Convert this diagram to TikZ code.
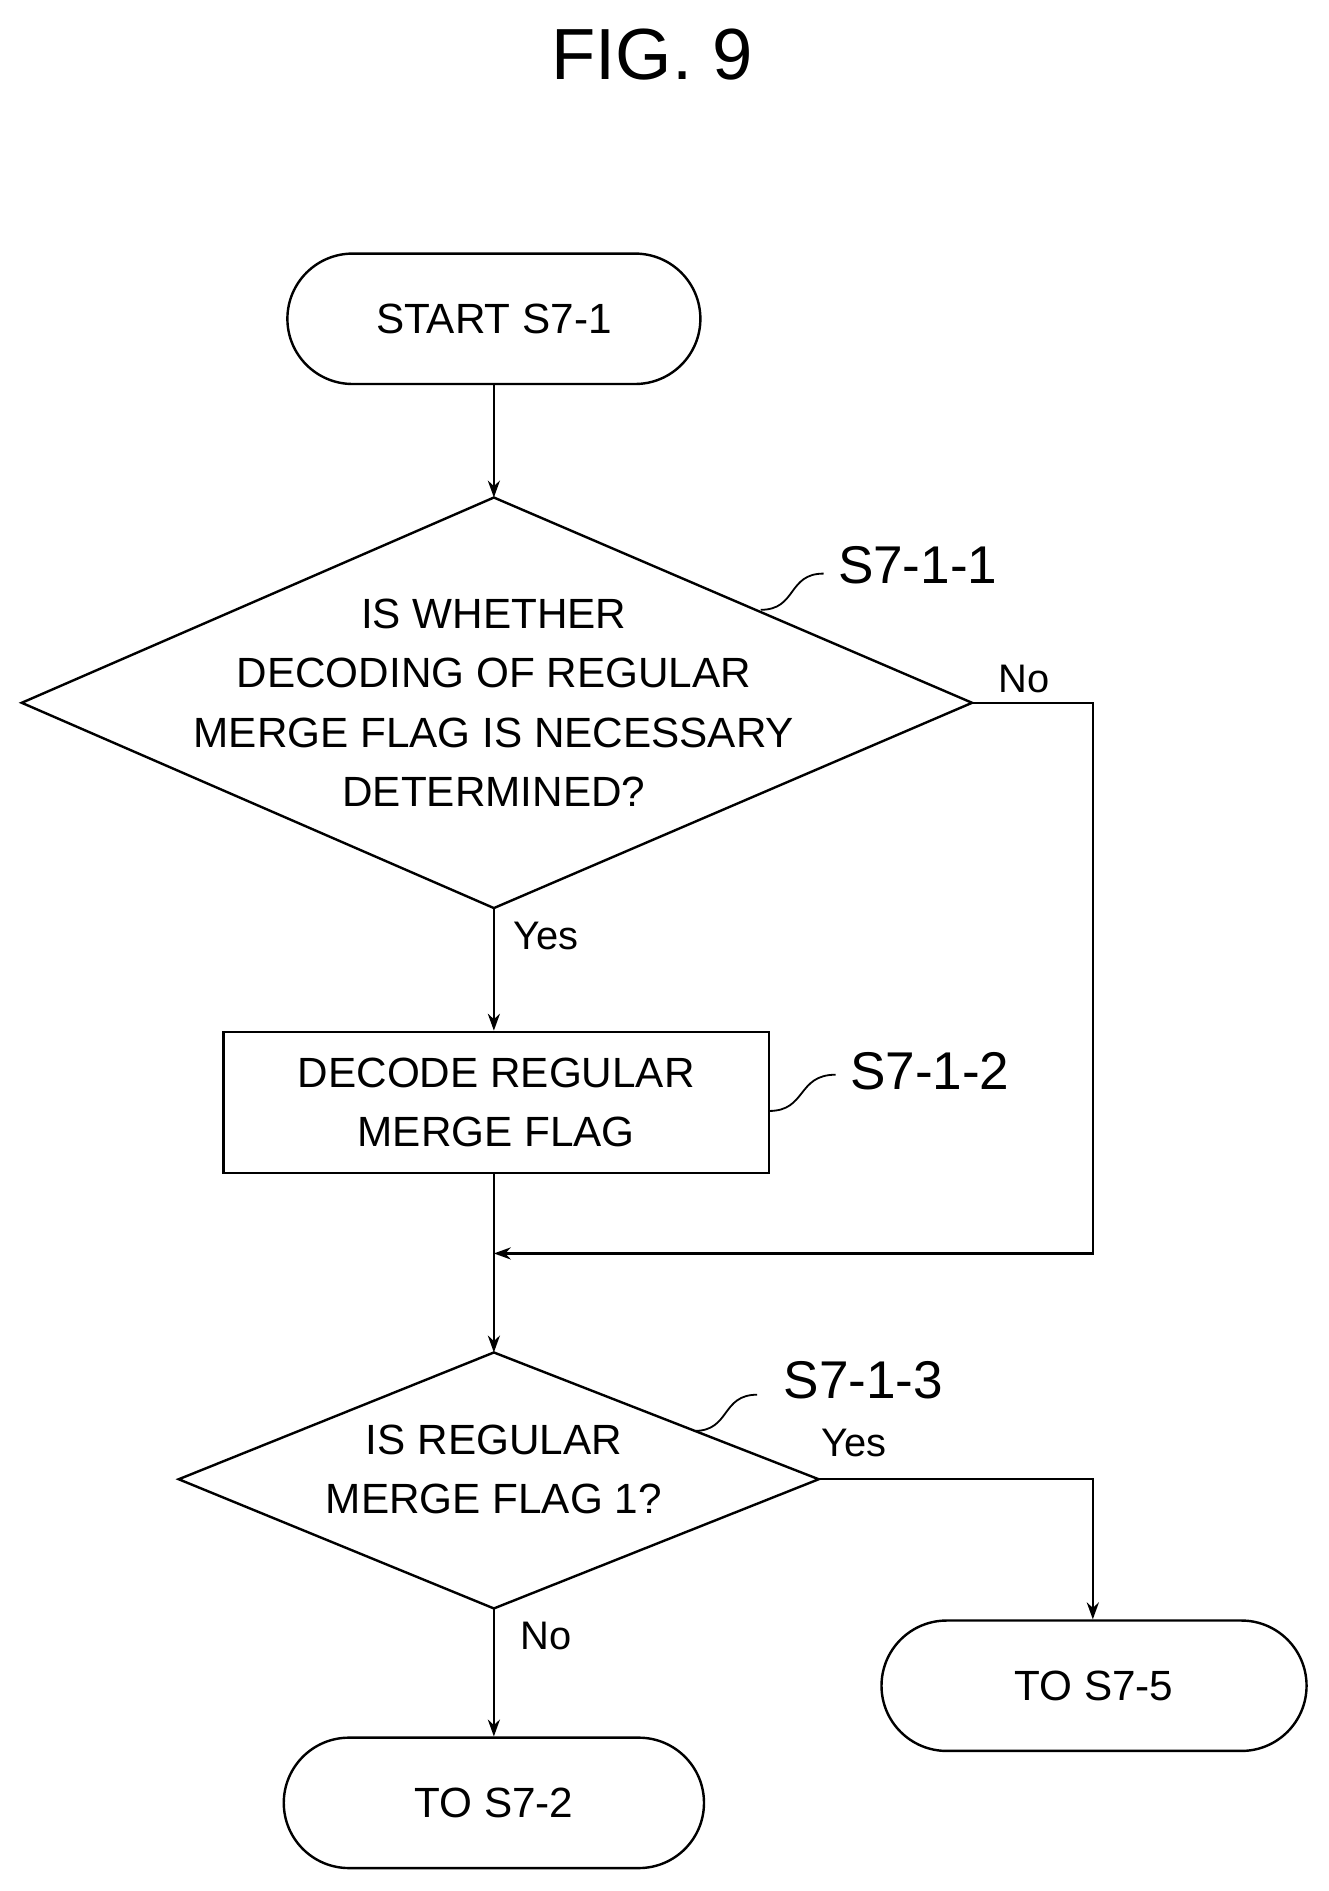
\documentclass[tikz,border=0pt]{standalone}
\usepackage{fontspec}
\setmainfont{Liberation Sans}
\usetikzlibrary{shapes.geometric,arrows.meta}
\begin{document}
\begin{tikzpicture}[x=1pt,y=-1pt,
  line width=2pt,
  txt/.style={font=\fontsize{35}{49}\selectfont,align=center,inner sep=0},
  lbl/.style={font=\fontsize{44}{50}\selectfont,inner sep=0},
  yn/.style={font=\fontsize{33}{40}\selectfont,inner sep=0},
  term/.style={draw,rounded corners=54pt,minimum width=#1,minimum height=108pt,txt},
  arr/.style={-{Stealth[length=14pt,width=10pt]}}]
\useasboundingbox (0,0) rectangle (1100,1566);
\node[font=\fontsize{60}{60}\selectfont] (title) at (540,45) {FIG. 9};
\node[term=342pt] (start) at (409,264) {START S7-1};
\coordinate (d1t) at (409,412); \coordinate (d1l) at (18,582);
\coordinate (d1r) at (805,582); \coordinate (d1b) at (409,752);
\draw (d1t)--(d1r)--(d1b)--(d1l)--cycle;
\node[txt] (q1) at (409,582) {IS WHETHER\\DECODING OF REGULAR\\MERGE FLAG IS NECESSARY\\DETERMINED?};
\draw[arr] (start) -- (d1t);
\node[lbl] (l1) at (760,468) {S7-1-1};
\coordinate (s1a) at (630,505); \coordinate (s1b) at (682,475);
\draw[line width=1.5pt] (s1a) .. controls (660,505) and (652,475) .. (s1b);
\node[draw,minimum width=452pt,minimum height=117pt,txt] (box) at (411,913) {DECODE REGULAR\\MERGE FLAG};
\draw[arr] (d1b) -- (box.north -| d1b);
\node[yn] at (452,775) {Yes};
\node[yn] at (848,562) {No};
\node[lbl] (l2) at (770,887) {S7-1-2};
\coordinate (s2a) at (637,920); \coordinate (s2b) at (692,890);
\draw[line width=1.5pt] (s2a) .. controls (668,920) and (660,890) .. (s2b);
\coordinate (j) at (409,1038);
\draw[arr] (d1r) -- (905,582) -- (905,1038) -- (j);
\coordinate (d2t) at (409,1120); \coordinate (d2l) at (148,1225);
\coordinate (d2r) at (678,1225); \coordinate (d2b) at (409,1332);
\draw (d2t)--(d2r)--(d2b)--(d2l)--cycle;
\node[txt] (q2) at (409,1217) {IS REGULAR\\MERGE FLAG 1?};
\draw[arr] (box.south -| j) -- (d2t);
\node[lbl] (l3) at (715,1143) {S7-1-3};
\coordinate (s3a) at (575,1185); \coordinate (s3b) at (627,1155);
\draw[line width=1.5pt] (s3a) .. controls (605,1185) and (597,1155) .. (s3b);
\node[yn] at (707,1195) {Yes};
\node[term=352pt] (s75) at (906,1396) {TO S7-5};
\draw[arr] (d2r) -- (905,1225) -- (s75.north -| 905,0);
\node[yn] at (452,1355) {No};
\node[term=348pt] (s72) at (409,1493) {TO S7-2};
\draw[arr] (d2b) -- (s72);
\end{tikzpicture}
\end{document}
